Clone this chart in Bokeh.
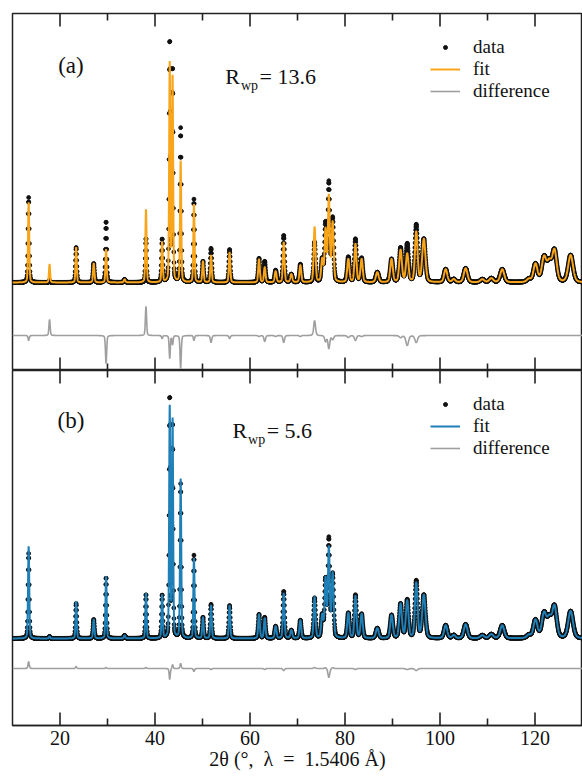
import numpy as np
from bokeh.plotting import figure
from bokeh.models import (ColumnDataSource, Range1d, LinearAxis, FixedTicker,
                          Legend, LegendItem, Label)
from bokeh.layouts import column
from bokeh.embed import file_html
from bokeh.resources import INLINE

# ---- values -----------------------------------------------------------
# reflection positions (deg 2theta)
peak_pos = [13.4, 17.8, 23.4, 27.1, 29.7, 33.6, 38.1, 41.5, 43.1, 43.7, 45.4,
            48.2, 50.1, 51.8, 55.7, 61.9, 63.1, 65.4, 67.1, 68.7, 70.6, 73.6,
            75.2, 75.9, 76.6, 77.4, 80.7, 82.2, 83.5, 86.8, 89.8, 91.7, 93.1,
            95.0, 96.6, 101.2, 102.9, 105.4, 108.9, 110.8, 113.1, 118.7, 120.1,
            121.9, 123.0, 124.1, 127.5]
# peak widths (FWHM, deg)
peak_fwhm = [0.30, 0.30, 0.30, 0.35, 0.30, 0.40, 0.30, 0.30, 0.28, 0.28, 0.30,
             0.30, 0.35, 0.35, 0.35, 0.40, 0.40, 0.45, 0.40, 0.50, 0.45, 0.45,
             0.50, 0.45, 0.45, 0.50, 0.55, 0.50, 0.55, 0.70, 0.65, 0.65, 0.65,
             0.65, 0.80, 0.80, 0.80, 0.90, 1.00, 1.00, 1.00, 1.00, 1.00,
             1.10, 1.10, 1.10, 1.20]
# observed intensities (same data in both panels)
obs_height = [85, 2, 35, 19, 61, 3, 44, 43, 241, 213, 154,
              83, 21, 34, 33, 24, 21, 12, 47, 8, 18, 40,
              22, 57, 98, 63, 25, 43, 24, 10, 23, 34, 38,
              57, 43, 13, 3, 14, 3, 4, 13, 3, 18,
              24, 18, 31, 27]
# fitted intensities, panel (a)
fit_a_height = [80, 18, 35, 19, 33, 3, 73, 40, 218, 204, 121,
                78, 21, 27, 30, 23, 15, 11, 40, 8, 17, 55,
                22, 51, 85, 59, 23, 38, 23, 10, 23, 32, 28,
                50, 43, 13, 3, 14, 3, 4, 13, 3, 18,
                24, 18, 31, 27]
# fitted intensities, panel (b)
fit_b_height = [92, 2, 37, 19, 62, 3, 45, 43, 230, 217, 159,
                80, 21, 33, 33, 24, 20, 12, 45, 8, 18, 41,
                22, 58, 89, 64, 25, 42, 24, 10, 23, 34, 37,
                55, 43, 13, 3, 14, 3, 4, 13, 3, 18,
                24, 18, 31, 27]

x_ticks = [20, 40, 60, 80, 100, 120]
x_minor = [30, 50, 70, 90, 110]
x_tick_labels = ["20", "40", "60", "80", "100", "120"]

panel_labels = ["(a)", "(b)"]
rwp_values = ["13.6", "5.6"]
legend_labels = ["data", "fit", "difference"]
x_title = "2θ (°,\u00a0 λ\u00a0 =\u00a0 1.5406 Å)"

# ---- styling -------------------------------------------------------------
FONT = "Liberation Serif"
ORANGE = "#F9A51B"
BLUE = "#1F7FB7"
GREY = "#A09E9E"
FRAME = "#222222"
ETA = 0.3
MAJOR_LEN = 13   # px
MINOR_LEN = 7    # px

x_data = np.arange(10.0, 130.0001, 0.04)
x_fit = np.arange(10.0, 130.0001, 0.01)


def profile(x, heights):
    y = np.zeros_like(x)
    for p, h, w in zip(peak_pos, heights, peak_fwhm):
        d = (x - p) / w
        g = np.exp(-4.0 * np.log(2.0) * d * d)
        lo = 1.0 / (1.0 + 4.0 * d * d)
        y += h * ((1.0 - ETA) * g + ETA * lo)
    return y


def make_panel(idx, fit_heights, fit_color, height, frame_h, y_lo, y_hi,
               diff_offset, border_top, border_bottom, bottom_labels,
               legend_y, lab_y, r_x, r_y):
    p = figure(width=582, height=height, x_range=Range1d(10, 130),
               y_range=Range1d(y_lo, y_hi), output_backend="svg",
               toolbar_location=None, x_axis_location=None,
               y_axis_location=None, min_border_left=12, min_border_right=0,
               min_border_top=border_top, min_border_bottom=border_bottom)
    p.xgrid.visible = False
    p.ygrid.visible = False
    p.outline_line_color = FRAME
    p.outline_line_width = 1.5
    p.background_fill_color = "white"
    p.border_fill_color = "white"

    y_obs = profile(x_data, obs_height)
    y_fit = profile(x_fit, fit_heights)
    y_diff = profile(x_data, fit_heights) - y_obs + diff_offset

    src_obs = ColumnDataSource(dict(x=x_data, y=y_obs))
    src_fit = ColumnDataSource(dict(x=x_fit, y=y_fit))
    src_diff = ColumnDataSource(dict(x=x_data, y=y_diff))

    r_obs = p.scatter("x", "y", source=src_obs, size=3.8, color="#111111",
                      marker="circle")
    r_fit = p.line("x", "y", source=src_fit, line_color=fit_color,
                   line_width=2)
    r_diff = p.line("x", "y", source=src_diff, line_color=GREY,
                    line_width=1.6)

    # inward ticks on top and bottom edges (lengths converted to data units)
    upp = (y_hi - y_lo) / frame_h
    tx, ty0, ty1 = [], [], []
    for edge, sgn in ((y_hi, -1.0), (y_lo, 1.0)):
        for t in x_ticks:
            tx.append(t); ty0.append(edge); ty1.append(edge + sgn * MAJOR_LEN * upp)
        for t in x_minor:
            tx.append(t); ty0.append(edge); ty1.append(edge + sgn * MINOR_LEN * upp)
    tick_src = ColumnDataSource(dict(x0=tx, x1=list(tx), y0=ty0, y1=ty1))
    p.segment(x0="x0", y0="y0", x1="x1", y1="y1", source=tick_src,
              line_color=FRAME, line_width=1.6)

    if bottom_labels:
        ax = LinearAxis(ticker=FixedTicker(ticks=x_ticks, minor_ticks=[]))
        ax.major_label_overrides = {t: s for t, s in zip(x_ticks, x_tick_labels)}
        ax.major_tick_in = 0
        ax.major_tick_out = 0
        ax.minor_tick_in = 0
        ax.minor_tick_out = 0
        ax.axis_line_color = FRAME
        ax.axis_line_width = 1.5
        ax.major_label_text_font = FONT
        ax.major_label_text_font_size = "20px"
        ax.major_label_text_color = "#111111"
        ax.major_label_standoff = 5
        ax.axis_label = x_title
        ax.axis_label_text_font = FONT
        ax.axis_label_text_font_size = "20px"
        ax.axis_label_text_font_style = "normal"
        ax.axis_label_text_color = "#111111"
        ax.axis_label_standoff = 0
        p.add_layout(ax, "below")

    legend = Legend(items=[LegendItem(label=legend_labels[0], renderers=[r_obs]),
                           LegendItem(label=legend_labels[1], renderers=[r_fit]),
                           LegendItem(label=legend_labels[2], renderers=[r_diff])],
                    location=(418, legend_y), orientation="vertical",
                    label_text_font=FONT, label_text_font_size="19px",
                    label_text_color="#111111",
                    glyph_width=30, glyph_height=10, label_height=21,
                    label_standoff=13, spacing=0, padding=0, margin=0,
                    border_line_color=None, background_fill_alpha=0)
    p.add_layout(legend)

    p.add_layout(Label(x=22.3, y=lab_y, text=panel_labels[idx],
                       text_font=FONT, text_font_size="23px",
                       text_align="center", text_baseline="middle",
                       text_color="#111111"))
    p.add_layout(Label(x=r_x, y=r_y, text="R", text_font=FONT,
                       text_font_size="22px", text_baseline="alphabetic",
                       text_color="#111111"))
    p.add_layout(Label(x=r_x + 3.3, y=r_y - 9, text="wp", text_font=FONT,
                       text_font_size="14px", text_baseline="alphabetic",
                       text_color="#111111"))
    p.add_layout(Label(x=r_x + 7.2, y=r_y, text="= " + rwp_values[idx],
                       text_font=FONT, text_font_size="22px",
                       text_baseline="alphabetic", text_color="#111111"))
    return p


# panel (a): frame 13..370 px; panel (b): frame 370..725 px + labels below
p1 = make_panel(0, fit_a_height, ORANGE, 370, 357, -88, 269, -53, 13, 0, False,
                268, 217, 54.8, 206)
p2 = make_panel(1, fit_b_height, BLUE, 776 - 370, 355, -87, 268, -30, 0, 51, True,
                266, 218, 56.3, 208)

layout = column(p1, p2, spacing=0)
open("out.html", "w").write(file_html(layout, INLINE))
